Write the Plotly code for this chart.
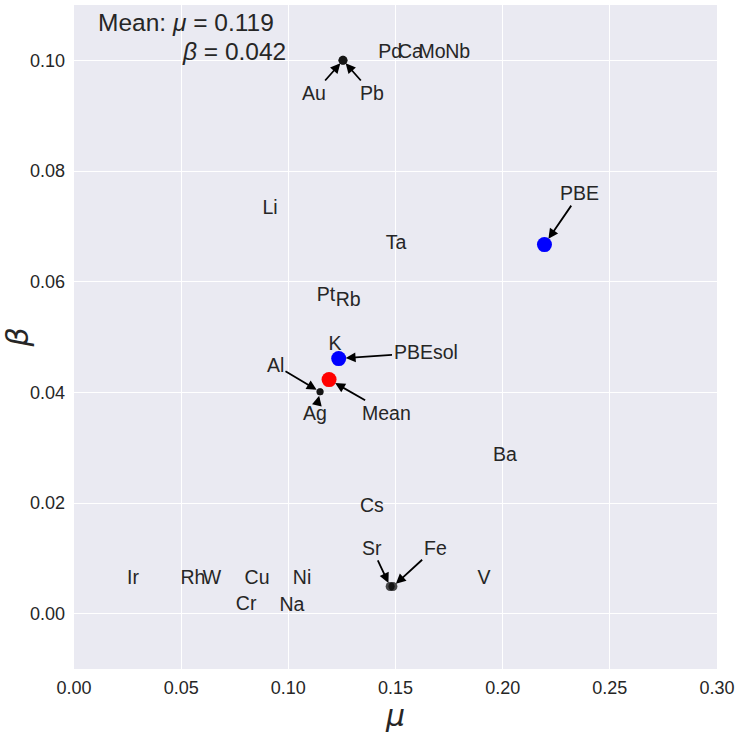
import plotly.graph_objects as go

# Element labels placed at their (mu, beta) values
elements = ["Ir", "Rh", "W", "Cu", "Ni", "Cr", "Na", "V", "Cs", "Ba",
            "K", "Pt", "Rb", "Ta", "Li", "Pd", "Ca", "Mo", "Nb"]
elem_mu = [0.0275, 0.0555, 0.0644, 0.0854, 0.1064, 0.0803, 0.1017, 0.1913, 0.139, 0.2011,
           0.1218, 0.1176, 0.1279, 0.1503, 0.0915, 0.1475, 0.157, 0.167, 0.179]
elem_beta = [0.0062, 0.0062, 0.0062, 0.0062, 0.0062, 0.0016, 0.0013, 0.0062, 0.0192, 0.0284,
             0.0485, 0.0573, 0.0564, 0.0667, 0.0731, 0.1013, 0.1013, 0.1013, 0.1013]

# Elements whose values fall on a shared point, with their label positions
point_names = ["Au", "Pb", "Al", "Ag", "Sr", "Fe"]
point_mu = [0.1255, 0.1255, 0.1148, 0.1148, 0.1475, 0.1488]
point_beta = [0.1000, 0.1000, 0.0401, 0.0401, 0.0049, 0.0049]
point_label_mu = [0.112, 0.139, 0.094, 0.1125, 0.139, 0.1685]
point_label_beta = [0.0941, 0.0941, 0.0449, 0.0363, 0.0119, 0.0119]

# Functionals and mean
ref_names = ["PBE", "PBEsol", "Mean"]
ref_mu = [0.2195, 0.1235, 0.119]
ref_beta = [0.0667, 0.0461, 0.0423]
ref_label_mu = [0.236, 0.164, 0.146]
ref_label_beta = [0.0760, 0.0472, 0.0363]
ref_colors = ["blue", "blue", "red"]

FONT = "Liberation Sans, Arial, sans-serif"
MATH = "DejaVu Sans"
TXT = "#262626"

fig = go.Figure()

fig.add_trace(go.Scatter(
    x=elem_mu, y=elem_beta, text=elements, mode="text",
    textfont=dict(family=FONT, size=19.5, color=TXT), hoverinfo="skip",
    showlegend=False))

fig.add_trace(go.Scatter(
    x=point_mu, y=point_beta, mode="markers",
    marker=dict(color="black", size=[9, 9, 7, 7, 9, 9], line=dict(width=0)),
    showlegend=False))

fig.add_trace(go.Scatter(
    x=ref_mu, y=ref_beta, mode="markers",
    marker=dict(color=ref_colors, size=15, line=dict(width=0)), showlegend=False))

for name, x, y, lx, ly in zip(point_names + ref_names,
                              point_mu + ref_mu, point_beta + ref_beta,
                              point_label_mu + ref_label_mu,
                              point_label_beta + ref_label_beta):
    fig.add_annotation(
        x=x, y=y, ax=lx, ay=ly, xref="x", yref="y", axref="x", ayref="y",
        text=name, showarrow=True, arrowhead=2, arrowsize=1.1, arrowwidth=1.8,
        arrowcolor="black", standoff=7 if name in ref_names else 4,
        font=dict(family=FONT, size=19.5, color=TXT))

fig.add_annotation(x=0.0522, y=0.1069, xref="x", yref="y", xanchor="center",
                   text="Mean: <i>μ</i> = 0.119",
                   showarrow=False, font=dict(family=FONT, size=24.5, color=TXT))
fig.add_annotation(x=0.0997, y=0.1016, xref="x", yref="y", xanchor="right",
                   text="<i>β</i> = 0.042",
                   showarrow=False, font=dict(family=FONT, size=24.5, color=TXT))

axis_common = dict(
    showgrid=True, gridcolor="white", gridwidth=1.2, zeroline=False,
    showline=False, ticks="", automargin=False,
    tickfont=dict(family=FONT, size=18, color=TXT))

fig.update_xaxes(range=[0, 0.30], dtick=0.05, tickformat=".2f", ticklabelstandoff=6,
                 title=dict(text="<i>μ</i>", font=dict(family=MATH, size=30, color=TXT),
                            standoff=4), **axis_common)
fig.update_yaxes(range=[-0.01, 0.11], dtick=0.02, tickformat=".2f", ticklabelstandoff=8,
                 title=dict(text="<i>β</i>", font=dict(family=MATH, size=30, color=TXT),
                            standoff=6), **axis_common)

fig.update_layout(
    width=739, height=734, plot_bgcolor="#EAEAF2", paper_bgcolor="white",
    margin=dict(l=74, r=22, t=5, b=65), showlegend=False)

fig.write_html("out.html")
